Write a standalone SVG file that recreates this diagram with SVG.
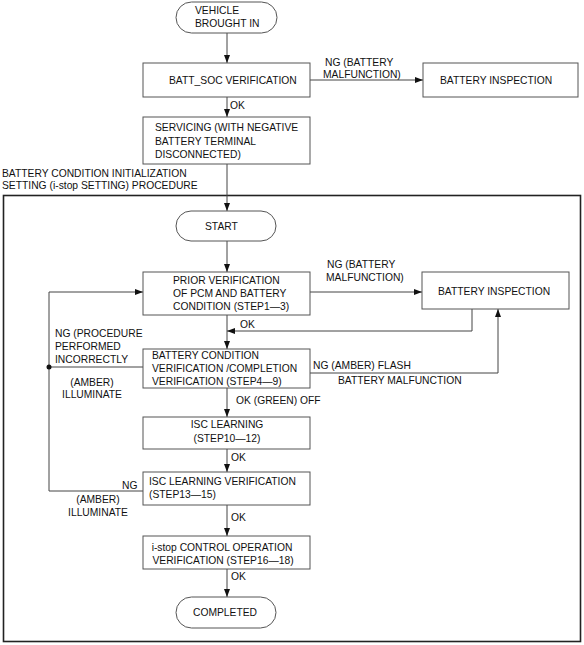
<svg xmlns="http://www.w3.org/2000/svg" width="584" height="645" viewBox="0 0 584 645">
<style>
.b{fill:#fff;stroke:#555;stroke-width:1}
.t{font-family:"Liberation Sans",Arial,sans-serif;font-size:10.3px;fill:#111}
.c{fill:none;stroke:#444;stroke-width:1}
.m{text-anchor:middle}
</style>
<defs>
<marker id="a" viewBox="0 0 8 6" refX="8" refY="3" markerWidth="8" markerHeight="6" markerUnits="userSpaceOnUse" orient="auto">
<path d="M0,0 L8,3 L0,6 Z" fill="#111"/>
</marker>
</defs>
<rect x="0" y="0" width="584" height="645" fill="#fff"/>
<rect x="3.5" y="195.5" width="577" height="446" fill="none" stroke="#222" stroke-width="1.6"/>
<text class="t" x="2" y="177">BATTERY CONDITION INITIALIZATION</text>
<text class="t" x="2" y="189">SETTING (i-stop SETTING) PROCEDURE</text>
<g id="connectors">
<path class="c" d="M227,33 V63" marker-end="url(#a)"/>
<path class="c" d="M310,80 H423" marker-end="url(#a)"/>
<path class="c" d="M227,97 V117" marker-end="url(#a)"/>
<path class="c" d="M227,164 V211" marker-end="url(#a)"/>
<path class="c" d="M227,241 V272" marker-end="url(#a)"/>
<path class="c" d="M310,292 H422" marker-end="url(#a)"/>
<path class="c" d="M472,309 V331 H227" marker-end="url(#a)"/>
<path class="c" d="M227,315 V349" marker-end="url(#a)"/>
<path class="c" d="M310,373 H498 V309" marker-end="url(#a)"/>
<path class="c" d="M143,367 H49"/>
<path class="c" d="M143,491 H49 V292 H143" marker-end="url(#a)"/>
<circle cx="49" cy="367" r="2.5" fill="#111"/>
<path class="c" d="M227,388 V417" marker-end="url(#a)"/>
<path class="c" d="M227,449 V472" marker-end="url(#a)"/>
<path class="c" d="M227,505 V536" marker-end="url(#a)"/>
<path class="c" d="M227,569 V597" marker-end="url(#a)"/>
<text class="t" x="325" y="66">NG (BATTERY</text>
<text class="t" x="323" y="78">MALFUNCTION)</text>
<text class="t" x="230" y="109">OK</text>
<text class="t" x="327" y="268">NG (BATTERY</text>
<text class="t" x="326" y="281">MALFUNCTION)</text>
<text class="t" x="240" y="328">OK</text>
<text class="t" x="55" y="337">NG (PROCEDURE</text>
<text class="t" x="55" y="350">PERFORMED</text>
<text class="t" x="55" y="363">INCORRECTLY</text>
<text class="t m" x="92" y="386">(AMBER)</text>
<text class="t m" x="92" y="398">ILLUMINATE</text>
<text class="t" x="313" y="369">NG (AMBER) FLASH</text>
<text class="t" x="338" y="384">BATTERY MALFUNCTION</text>
<text class="t" x="236" y="404">OK (GREEN) OFF</text>
<text class="t" x="231" y="461">OK</text>
<text class="t" x="122" y="489">NG</text>
<text class="t m" x="98" y="503">(AMBER)</text>
<text class="t m" x="98" y="516">ILLUMINATE</text>
<text class="t" x="231" y="521">OK</text>
<text class="t" x="231" y="580">OK</text>
</g>
<g id="vehicle">
<rect class="b" x="176" y="2" width="101" height="31" rx="15.5"/>
<text class="t" x="195" y="14">VEHICLE</text>
<text class="t" x="195" y="27">BROUGHT IN</text>
</g>
<g id="batt_soc">
<rect class="b" x="143" y="63" width="167" height="34"/>
<text class="t" x="169" y="84">BATT_SOC VERIFICATION</text>
</g>
<g id="inspection1">
<rect class="b" x="423" y="63" width="155" height="34"/>
<text class="t" x="440" y="84">BATTERY INSPECTION</text>
</g>
<g id="servicing">
<rect class="b" x="143" y="117" width="167" height="47"/>
<text class="t" x="155" y="131">SERVICING (WITH NEGATIVE</text>
<text class="t" x="155" y="145">BATTERY TERMINAL</text>
<text class="t" x="155" y="158">DISCONNECTED)</text>
</g>
<g id="start">
<rect class="b" x="176" y="211" width="100" height="30" rx="15"/>
<text class="t" x="205" y="230">START</text>
</g>
<g id="prior">
<rect class="b" x="143" y="272" width="167" height="43"/>
<text class="t" x="173" y="284">PRIOR VERIFICATION</text>
<text class="t" x="173" y="297">OF PCM AND BATTERY</text>
<text class="t" x="173" y="310">CONDITION (STEP1—3)</text>
</g>
<g id="inspection2">
<rect class="b" x="422" y="272" width="147" height="37"/>
<text class="t" x="438" y="295">BATTERY INSPECTION</text>
</g>
<g id="condition">
<rect class="b" x="143" y="349" width="167" height="39"/>
<text class="t" x="152" y="359">BATTERY CONDITION</text>
<text class="t" x="152" y="372">VERIFICATION /COMPLETION</text>
<text class="t" x="152" y="385">VERIFICATION (STEP4—9)</text>
</g>
<g id="isc">
<rect class="b" x="143" y="417" width="167" height="32"/>
<text class="t m" x="227" y="428">ISC LEARNING</text>
<text class="t m" x="227" y="442">(STEP10—12)</text>
</g>
<g id="iscv">
<rect class="b" x="143" y="472" width="167" height="33"/>
<text class="t" x="149" y="485">ISC LEARNING VERIFICATION</text>
<text class="t" x="149" y="498">(STEP13—15)</text>
</g>
<g id="istop">
<rect class="b" x="143" y="536" width="167" height="33"/>
<text class="t m" x="222" y="551">i-stop CONTROL OPERATION</text>
<text class="t m" x="223" y="564">VERIFICATION (STEP16—18)</text>
</g>
<g id="completed">
<rect class="b" x="176" y="597" width="100" height="31" rx="15.5"/>
<text class="t m" x="225" y="616">COMPLETED</text>
</g>
</svg>
